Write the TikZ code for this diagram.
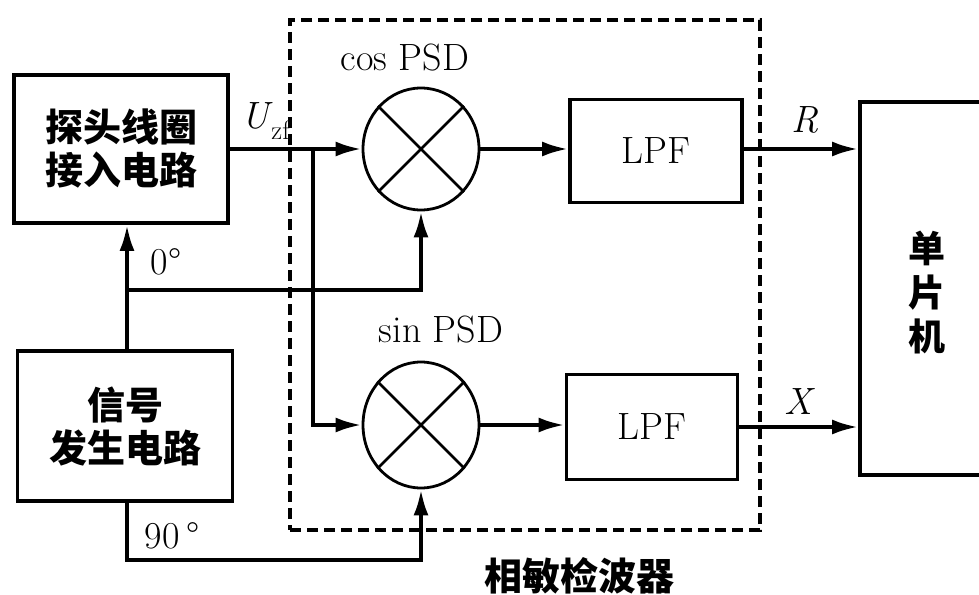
\documentclass[tikz,border=0pt]{standalone}
\usepackage{fontspec}
\newfontfamily\cjk{Noto Sans CJK SC}
\usetikzlibrary{arrows.meta,shapes.geometric}
\begin{document}
\begin{tikzpicture}[x=1pt,y=-1pt,
  box/.style={draw,line width=3.8pt,rectangle,inner sep=0pt},
  mult/.style={draw,ellipse,line width=2.8pt,inner sep=0pt,minimum width=116pt},
  arr/.style={line width=3.8pt,-{Latex[length=26pt,width=15pt]}},
  dbox/.style={draw,dash pattern=on 11pt off 6pt,line width=3.8pt,rectangle,inner sep=0pt},
  cn/.style={font=\cjk\bfseries\fontsize{38}{43}\selectfont,align=center},
  lat/.style={font=\fontsize{38}{42}\selectfont},
  lbl/.style={font=\fontsize{38}{42}\selectfont}]
\clip (0,0) rectangle (979,594);
% dashed PSD frame
\node[dbox,minimum width=470pt,minimum height=510pt] (psd) at (525,275) {};
% blocks
\node[box,minimum width=214pt,minimum height=148pt,cn] (probe) at (121,149) {探头线圈\\接入电路};
\node[box,minimum width=215pt,minimum height=150pt,cn] (sig) at (125,426) {信号\\发生电路};
\node[mult,minimum height=122pt] (cosm) at (421,149) {};
\node[mult,minimum height=126pt] (sinm) at (421,425) {};
\draw[line width=2.5pt] (cosm.45) -- (cosm.225) (cosm.135) -- (cosm.315);
\draw[line width=2.5pt] (sinm.45) -- (sinm.225) (sinm.135) -- (sinm.315);
\node[box,minimum width=172pt,minimum height=103pt,lat] (lpfa) at (656,151) {LPF};
\node[box,minimum width=171pt,minimum height=105pt,lat] (lpfb) at (652,427) {LPF};
\node[box,minimum width=134pt,minimum height=373pt] (mcu) at (927,288.5) {};
\node[cn,font=\cjk\bfseries\fontsize{37}{44}\selectfont] (mcut) at (927,293) {单\\片\\机};
% labels
\node[lat] (cosl) at (405,58) {cos PSD};
\node[lat] (sinl) at (441,330) {sin PSD};
\node[cn] (psdl) at (579,576) {相敏检波器};
\node[lbl] (uzf) at (266,121) {\textit{U}\textsubscript{\kern-2pt zf}};
\node[lbl] (rl) at (805,120) {\textit{R}};
\node[lbl] (xl) at (800,402) {\textit{X}};
\node[lbl] (zl) at (166,262) {0°};
\node[lbl] (nl) at (172,536) {90\,°};
% connectors
\coordinate (br) at (313,149);
\coordinate (tap) at (127,290);
\coordinate (bot) at (127,560);
\draw[arr] (probe.east) -- (cosm.west);
\draw[arr] (br) |- (sinm.west);
\draw[arr] (sig.north -| tap) -- (probe.south -| tap);
\draw[arr] (tap) -| (cosm.south);
\draw[arr] (sig.south -| tap) -- (bot) -| (sinm.south);
\draw[arr] (cosm.east) -- (cosm.east -| lpfa.west);
\draw[arr] (sinm.east) -- (sinm.east -| lpfb.west);
\draw[arr] (lpfa.east |- cosm.east) -- (cosm.east -| mcu.west);
\draw[arr] (lpfb.east) -- (lpfb.east -| mcu.west);
\end{tikzpicture}
\end{document}
